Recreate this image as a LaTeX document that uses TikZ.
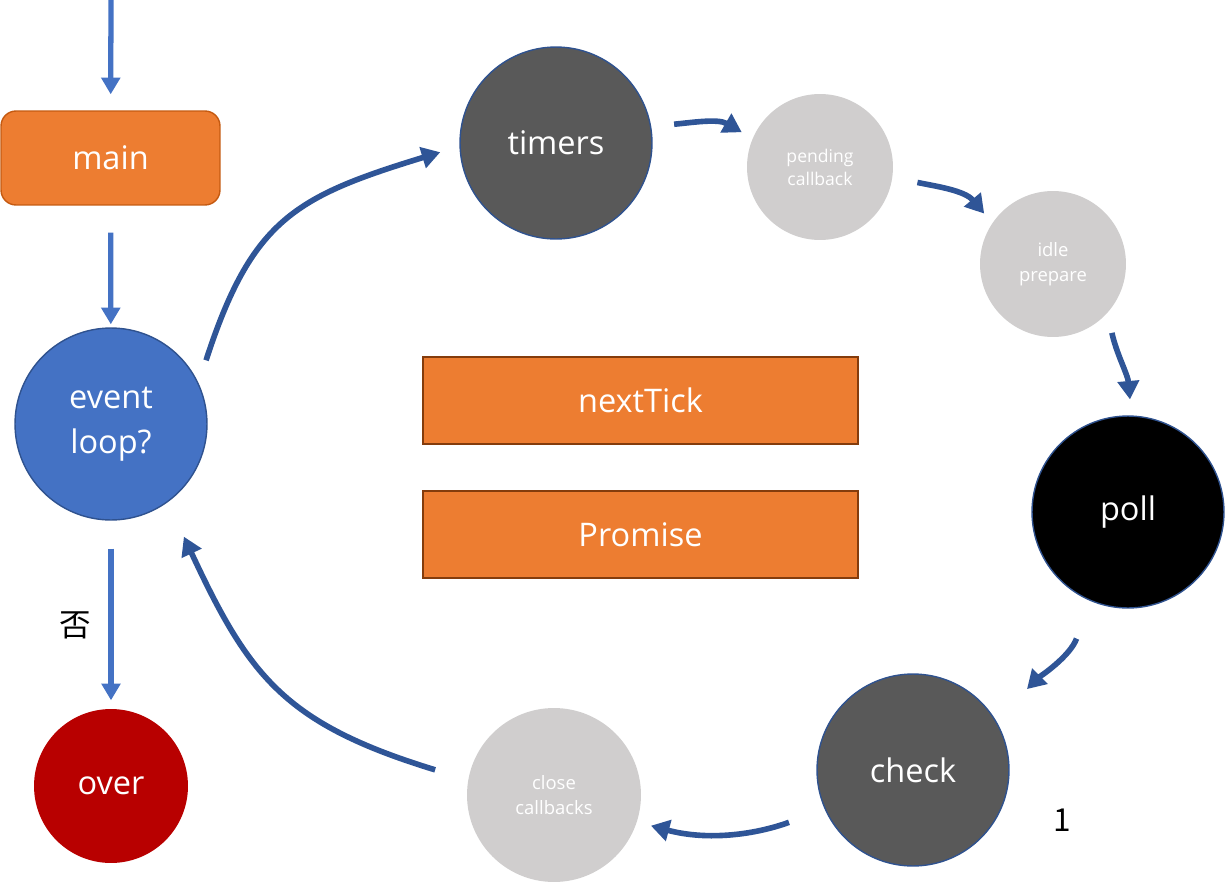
\documentclass[tikz,border=0pt]{standalone}
\usepackage{fontspec}
\setmainfont{Open Sans}
\newfontfamily\cjk{Noto Sans CJK SC}
\usetikzlibrary{arrows.meta}

\definecolor{boxorange}{HTML}{ED7D31}
\definecolor{mainedge}{HTML}{C55A11}
\definecolor{boxedge}{HTML}{843C0C}
\definecolor{loopblue}{HTML}{4472C4}
\definecolor{loopedge}{HTML}{2F528F}
\definecolor{flowblue}{HTML}{2F5597}
\definecolor{darkgrey}{HTML}{595959}
\definecolor{lightgrey}{HTML}{D0CECE}
\definecolor{overred}{HTML}{B80000}

\begin{document}
\begin{tikzpicture}[x=0.02cm,y=0.02cm,
	bigtext/.style={font=\fontsize{18.5}{25.5}\selectfont,text=white,align=center},
	smalltext/.style={font=\fontsize{10}{13}\selectfont,text=white,align=center},
	phase/.style={circle,inner sep=0pt,line width=0.8pt},
	flow/.style={draw=flowblue,line width=3.2pt,-{Triangle[width=12pt,length=10.5pt]}},
	feed/.style={draw=loopblue,line width=3pt,-{Triangle[width=10.5pt,length=9.5pt]}}]
\useasboundingbox (0,0) rectangle (1225,-883);

% left column
\coordinate (entry) at (111,0);
\node (main) at (110.5,-158) [draw=mainedge,fill=boxorange,line width=0.8pt,rounded corners=0.3cm,minimum width=4.38cm,minimum height=1.88cm,bigtext] {main};
\node (loop) at (111,-424) [phase,draw=loopedge,fill=loopblue,minimum size=3.84cm,bigtext] {event\\loop?};
\node (over) at (111,-786) [phase,fill=overred,minimum size=3.08cm,bigtext] {over};
\node (no) at (75,-625) [font=\cjk\fontsize{18}{20}\selectfont] {否};

% the loop phases
\node (timers) at (556,-143) [phase,draw=loopedge,fill=darkgrey,minimum size=3.84cm,bigtext] {timers};
\node (pending) at (820,-167) [phase,fill=lightgrey,minimum size=2.92cm,smalltext] {pending\\callback};
\node (idle) at (1053,-264) [phase,fill=lightgrey,minimum size=2.92cm,smalltext,font=\fontsize{10.5}{14}\selectfont] {idle\\prepare};
\node (poll) at (1128,-512) [phase,draw=loopedge,fill=black,minimum size=3.84cm,bigtext] {poll};
\node (check) at (913,-770) [phase,draw=loopedge,fill=darkgrey,minimum size=3.84cm,bigtext] {check};
\node (close) at (554,-795) [phase,fill=lightgrey,minimum size=3.48cm,smalltext,font=\fontsize{10.5}{14}\selectfont] {close\\callbacks};
\node (one) at (1062,-820) [font=\cjk\fontsize{18}{20}\selectfont] {1};

% microtasks
\node (tick) at (640.5,-400.5) [draw=boxedge,fill=boxorange,line width=0.8pt,minimum width=8.7cm,minimum height=1.74cm,bigtext] {nextTick};
\node (promise) at (640.5,-534.5) [draw=boxedge,fill=boxorange,line width=0.8pt,minimum width=8.7cm,minimum height=1.74cm,bigtext] {Promise};

% straight arrows
\draw[feed,shorten >=0.32cm] (entry) -- (main);
\draw[feed,shorten <=0.54cm,shorten >=0.06cm] (main) -- (loop);
\draw[feed,shorten <=0.56cm,shorten >=0.16cm] (loop) -- (over);

% round trip
\draw[flow,shorten <=0.48cm,shorten >=0.4cm] (loop.25) to[out=72,in=197,looseness=1.25] (timers.182);
\draw[flow,shorten <=0.46cm,shorten >=0.24cm] (timers.10) to[out=5,in=150] (pending.157);
\draw[flow,shorten <=0.5cm,shorten >=0.24cm] (pending.-8) to[out=-12,in=130] (idle.146);
\draw[flow,shorten <=0.4cm,shorten >=0.32cm] (idle.-42) to[out=-78,in=95] (poll.88);
\draw[flow,shorten <=0.8cm,shorten >=0.88cm] (poll.-113) to[out=-110,in=45] (check.31);
\draw[flow,shorten <=0.76cm,shorten >=0.28cm] (check.-156) to[out=200,in=-15] (close.-18);
\draw[flow,shorten <=0.68cm,shorten >=0.76cm] (close.170) to[out=163,in=-65,looseness=1.2] (loop.-54);
\end{tikzpicture}
\end{document}
